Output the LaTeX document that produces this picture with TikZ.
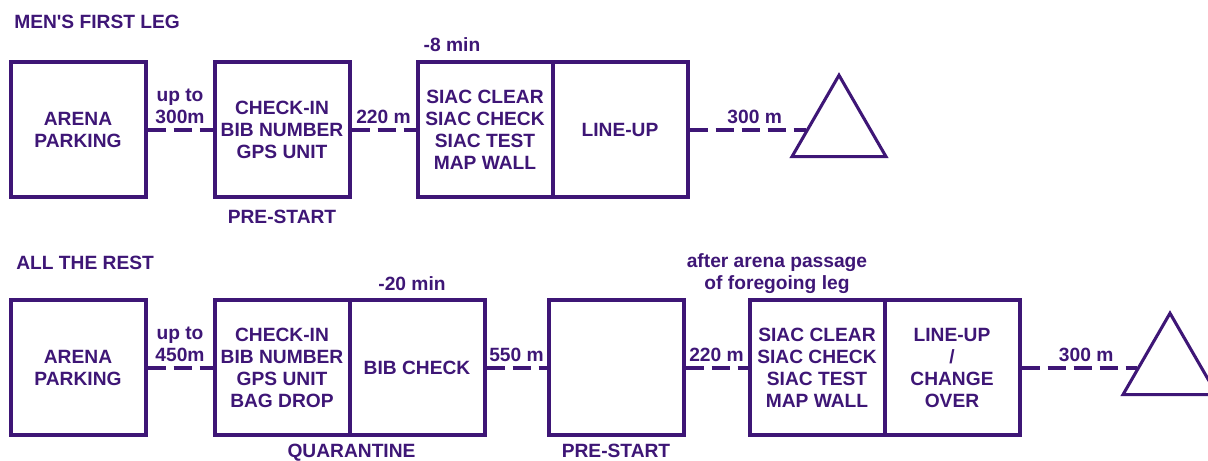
\documentclass[tikz,border=0pt]{standalone}
\usepackage{fontspec}
\setmainfont{Liberation Sans}
\usetikzlibrary{positioning,shapes.geometric}
\definecolor{legcol}{RGB}{62,22,118}
\tikzset{
  stage/.style={draw=legcol, line width=3pt, minimum width=101.25pt, minimum height=101.25pt, align=center, inner sep=0pt},
  walk/.style={draw=legcol, line width=3pt, dash pattern=on 13.5pt off 6pt},
  dist/.style={above, inner sep=3pt, align=center},
  goal/.style={draw=legcol, line width=2.3pt, regular polygon, regular polygon sides=3, minimum size=81.4pt, inner sep=0pt},
  note/.style={align=center, inner sep=0pt},
}
\begin{document}
\begin{tikzpicture}[x=0.75pt,y=-0.75pt,font=\fontsize{14.4}{16.5}\selectfont\bfseries,text=legcol]
\useasboundingbox (0,0) rectangle (1208,461);
% men's first leg
\node[note,anchor=west] (title1) at (14,22) {MEN\textquotesingle S FIRST LEG};
\node[stage] (park1) at (78,129.5) {ARENA\\PARKING};
\node[stage] (check1) at (282,129.5) {CHECK-IN\\BIB NUMBER\\GPS UNIT};
\node[stage] (siac1) at (485,129.5) {SIAC CLEAR\\SIAC CHECK\\SIAC TEST\\MAP WALL};
\node[stage] (line1) at (620,129.5) {LINE-UP};
\node[goal] (goal1) at (839,129.5) {};
\node[note,below=8pt of check1] (pre1) {PRE-START};
\node[note,above=6pt of siac1,xshift=-24.75pt] (min1) {-8 min};
\draw[walk] (park1) -- node[dist,midway] {up to\\300m} (check1);
\draw[walk] (check1) -- node[dist,midway] {220 m} (siac1);
\draw[walk] (line1) -- node[dist,pos=0.56] {300 m} (goal1);
% all the rest
\node[note,anchor=west] (title2) at (16,263) {ALL THE REST};
\node[stage] (park2) at (78,367.5) {ARENA\\PARKING};
\node[stage] (check2) at (282,367.5) {CHECK-IN\\BIB NUMBER\\GPS UNIT\\BAG DROP};
\node[stage] (bib2) at (417,367.5) {BIB CHECK};
\node[stage] (pre2) at (616,367.5) {};
\node[stage] (siac2) at (817,367.5) {SIAC CLEAR\\SIAC CHECK\\SIAC TEST\\MAP WALL};
\node[stage] (line2) at (952,367.5) {LINE-UP\\/\\CHANGE\\OVER};
\node[goal] (goal2) at (1170,367.5) {};
\node[note,below=5pt of check2.south east] (quar) {QUARANTINE};
\node[note,below=5pt of pre2] (prelab2) {PRE-START};
\node[note,above=5pt of bib2,xshift=-3.75pt] (min2) {-20 min};
\node[note,above=3pt of siac2,xshift=-30pt] (after2) {after arena passage\\of foregoing leg};
\draw[walk] (park2) -- node[dist,midway] {up to\\450m} (check2);
\draw[walk] (bib2) -- node[dist,midway] {550 m} (pre2);
\draw[walk] (pre2) -- node[dist,midway] {220 m} (siac2);
\draw[walk] (line2) -- node[dist,pos=0.56] {300 m} (goal2);
\end{tikzpicture}
\end{document}
